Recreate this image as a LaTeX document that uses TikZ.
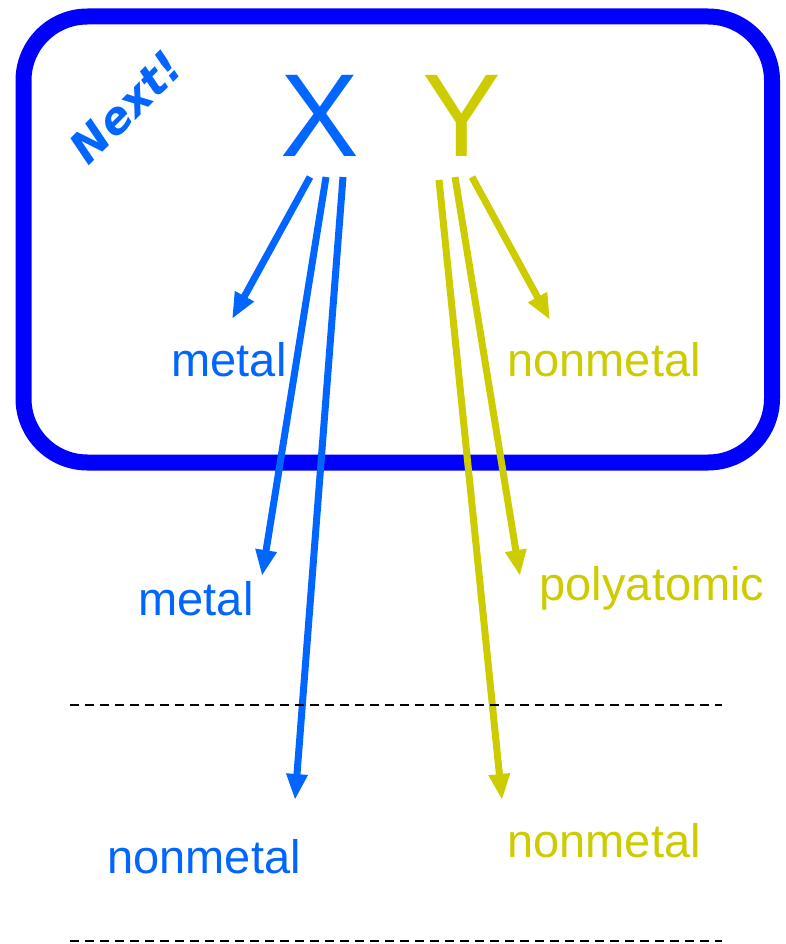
\documentclass[tikz,border=0pt]{standalone}
\usepackage{fontspec}
\setmainfont{Liberation Sans}
\newfontfamily\nextfont{DejaVu Sans}
\usetikzlibrary{arrows.meta}
\definecolor{tblue}{HTML}{0066FF}
\definecolor{boxblue}{HTML}{0000FF}
\definecolor{tyel}{HTML}{CCCC00}
\begin{document}
\begin{tikzpicture}[x=1pt,y=-1pt,
 lbl/.style={inner sep=0pt, anchor=base, font=\fontsize{47}{56}\selectfont},
 big/.style={inner sep=0pt, anchor=base, font=\fontsize{118}{130}\selectfont},
 arr/.style={line width=7pt, -{Triangle[length=26pt,width=20pt]}},
 sep/.style={line width=1.5pt, dash pattern=on 9pt off 6pt}]
\useasboundingbox (0,0) rectangle (785,944);
\draw[boxblue, line width=16pt, rounded corners=64pt] (23.5,16.5) rectangle (772,462.5);
\node[big, tblue] (X) at (320,157) {X};
\node[big, tyel] (Y) at (462,157) {Y};
\node[rotate=45, inner sep=0pt, font=\nextfont\fontsize{44}{50}\selectfont\bfseries\itshape, tblue] (next) at (126,107) {Next!};
\node[lbl, tblue] (m1) at (229,376) {metal};
\node[lbl, tyel] (n1) at (604,376) {nonmetal};
\node[lbl, tblue] (m2) at (196,615) {metal};
\node[lbl, tyel] (p2) at (652,600) {polyatomic};
\node[lbl, tblue] (n3) at (204,873) {nonmetal};
\node[lbl, tyel] (n4) at (604,857) {nonmetal};
\coordinate (b1s) at (310,177);
\coordinate (b1e) at (232,319);
\coordinate (b2s) at (326,177);
\coordinate (b2e) at (262,576);
\coordinate (b3s) at (343,177);
\coordinate (b3e) at (295,800);
\coordinate (y1s) at (439,180);
\coordinate (y1e) at (502,800);
\coordinate (y2s) at (455,177);
\coordinate (y2e) at (520,576);
\coordinate (y3s) at (472,177);
\coordinate (y3e) at (550,320);
\draw[arr, tblue] (b1s) -- (b1e);
\draw[arr, tblue] (b2s) -- (b2e);
\draw[arr, tblue] (b3s) -- (b3e);
\draw[arr, tyel] (y1s) -- (y1e);
\draw[arr, tyel] (y2s) -- (y2e);
\draw[arr, tyel] (y3s) -- (y3e);
\coordinate (d1l) at (70,705);
\coordinate (d1r) at (722,705);
\coordinate (d2l) at (70,941);
\coordinate (d2r) at (722,941);
\draw[sep] (d1l) -- (d1r);
\draw[sep] (d2l) -- (d2r);
\end{tikzpicture}
\end{document}
